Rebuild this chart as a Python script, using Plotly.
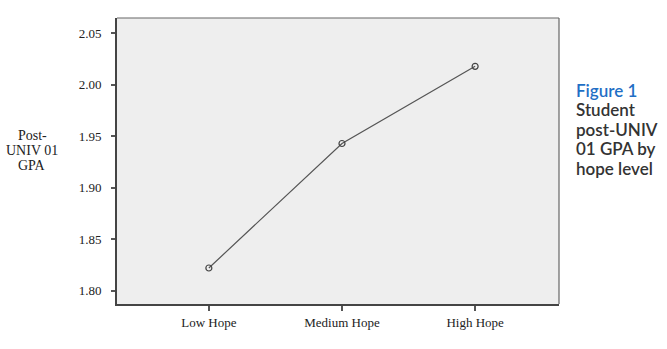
import plotly.graph_objects as go

categories = ["Low Hope", "Medium Hope", "High Hope"]
gpa = [1.822, 1.943, 2.018]
y_ticks = [1.80, 1.85, 1.90, 1.95, 2.00, 2.05]
y_tick_labels = ["1.80", "1.85", "1.90", "1.95", "2.00", "2.05"]
y_title_lines = ["Post-", "UNIV 01", "GPA"]
caption_lines = ["Figure 1", "Student", "post-UNIV", "01 GPA by", "hope level"]

fig = go.Figure()
fig.add_trace(go.Scatter(
    x=[0, 1, 2], y=gpa, mode="lines+markers",
    line=dict(color="#555555", width=1.2),
    marker=dict(symbol="circle-open", size=6, color="#444444", line=dict(width=1.2)),
    showlegend=False, hoverinfo="skip",
))

serif = "Liberation Serif, Times New Roman, serif"
L, R, T, B = 117, 108, 18, 45
W, H = 667, 349
pw, ph = W - L - R, H - T - B

def px_x(x):
    return (x - L) / pw

def px_y(y):
    return (H - B - y) / ph

annotations = []
for i, t in enumerate(y_title_lines):
    annotations.append(dict(
        text=t, xref="paper", yref="paper", x=px_x(32), y=px_y(135 + 15.3 * i),
        xanchor="center", yanchor="middle", showarrow=False,
        font=dict(family=serif, size=14, color="#222222")))
for i, t in enumerate(caption_lines):
    annotations.append(dict(
        text=t, xref="paper", yref="paper", x=px_x(574), y=px_y(90 + 19.5 * i),
        xanchor="left", yanchor="middle", showarrow=False,
        font=dict(family="Lato, Open Sans, sans-serif", size=17,
                  color="#1f6fc5" if i == 0 else "#333333", weight=600)))

fig.update_layout(
    width=W, height=H,
    margin=dict(l=L, r=R, t=T, b=B),
    paper_bgcolor="white", plot_bgcolor="#eeeeee",
    font=dict(family=serif, size=12, color="#222222"),
    xaxis=dict(
        range=[-0.69, 2.63], tickvals=[0, 1, 2], ticktext=categories,
        showgrid=False, zeroline=False, showline=True, linecolor="#444444", linewidth=2,
        ticks="outside", ticklen=5, tickwidth=1.5, tickcolor="#555555",
        tickfont=dict(family=serif, size=13, color="#222222"),
    ),
    yaxis=dict(
        range=[1.787, 2.065], tickvals=y_ticks, ticktext=y_tick_labels,
        showgrid=False, zeroline=False, showline=True, linecolor="#444444", linewidth=2,
        ticks="outside", ticklen=4, tickwidth=1.5, tickcolor="#555555",
        ticklabelstandoff=7,
        tickfont=dict(family=serif, size=13, color="#222222"),
    ),
    shapes=[
        dict(type="line", xref="paper", yref="paper", x0=0, x1=1, y0=1, y1=1,
             line=dict(color="#666666", width=1.2)),
        dict(type="line", xref="paper", yref="paper", x0=1, x1=1, y0=0, y1=1,
             line=dict(color="#666666", width=1.2)),
    ],
    annotations=annotations,
)

fig.write_html("out.html")
